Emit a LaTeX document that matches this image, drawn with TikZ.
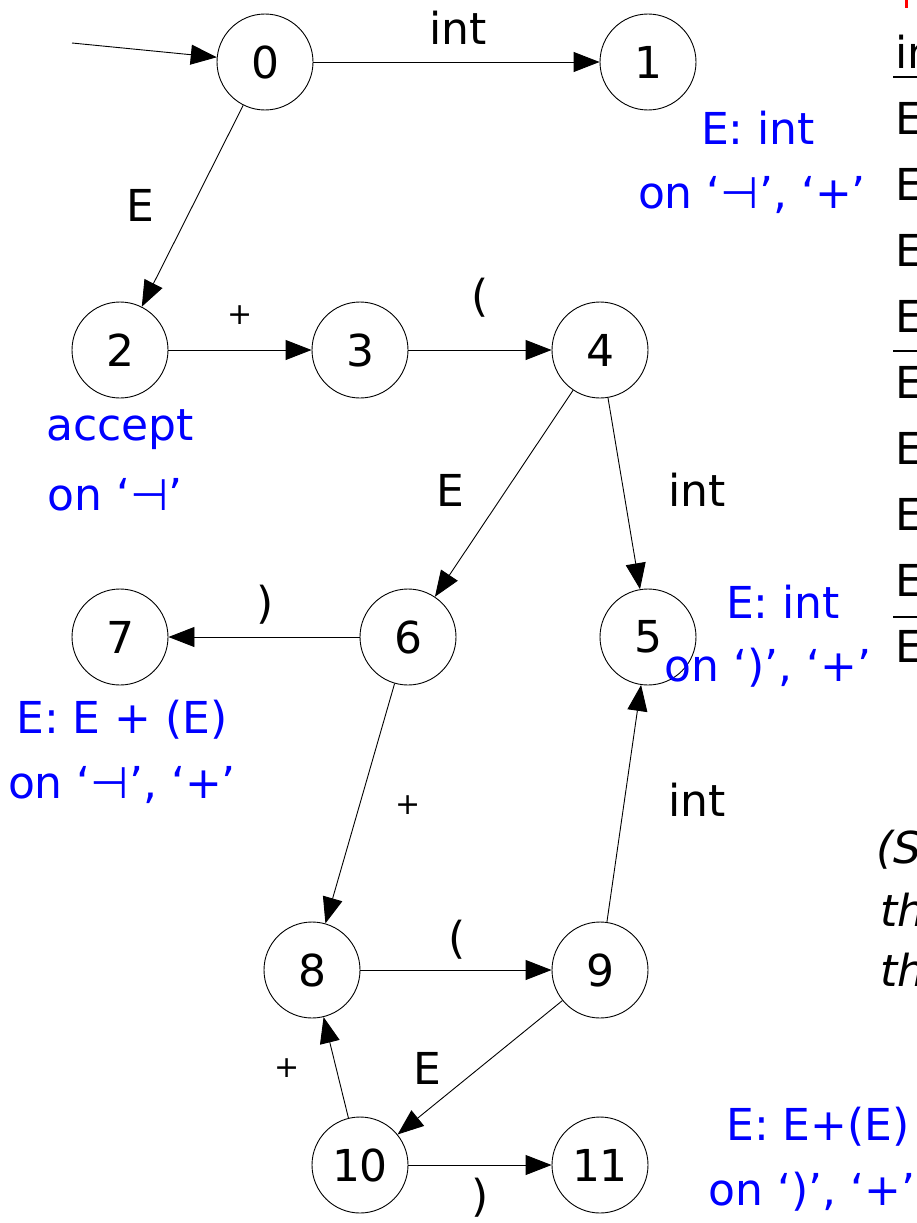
\documentclass[tikz,border=0pt]{standalone}
\usepackage{fontspec}
\setmainfont{DejaVu Sans}
\usetikzlibrary{arrows.meta}
\begin{document}
\begin{tikzpicture}[x=1pt,y=-1pt,
  st/.style={circle,draw,line width=0.9pt,minimum size=96pt,inner sep=0pt,font=\fontsize{44}{50}\selectfont},
  edge/.style={line width=0.9pt,-{Triangle[length=26pt,width=20pt]}},
  lab/.style={inner sep=0pt,font=\fontsize{44}{50}\selectfont},
  plus/.style={inner sep=0pt,font=\fontsize{30}{34}\selectfont},
  bl/.style={inner sep=0pt,text=blue,font=\fontsize{44}{50}\selectfont},
  side/.style={inner sep=0pt,anchor=west,font=\fontsize{44}{50}\selectfont},
  rule/.style={line width=2pt}
]
\useasboundingbox (0,0) rectangle (917,1223);
\clip (0,0) rectangle (917,1223);

% states
\node[st] (n0) at (265,62) {0};
\node[st] (n1) at (648,62) {1};
\node[st] (n2) at (120,350) {2};
\node[st] (n3) at (360,350) {3};
\node[st] (n4) at (600,350) {4};
\node[st] (n5) at (648,637) {5};
\node[st] (n6) at (408,637) {6};
\node[st] (n7) at (120,637) {7};
\node[st] (n8) at (312,970) {8};
\node[st] (n9) at (600,970) {9};
\node[st] (n10) at (360,1165) {10};
\node[st] (n11) at (600,1165) {11};

% transitions
\coordinate (start) at (72,43);
\draw[edge] (start) -- (n0);
\draw[edge] (n0) -- (n1);
\draw[edge] (n0) -- (n2);
\draw[edge] (n2) -- (n3);
\draw[edge] (n3) -- (n4);
\draw[edge] (n4) -- (n5);
\draw[edge] (n4) -- (n6);
\draw[edge] (n6) -- (n7);
\draw[edge] (n6) -- (n8);
\draw[edge] (n8) -- (n9);
\draw[edge] (n9) -- (n5);
\draw[edge] (n9) -- (n10);
\draw[edge] (n10) -- (n8);
\draw[edge] (n10) -- (n11);

% edge labels
\node[lab] (l01) at (458,28) {int};
\node[lab] (l02) at (140,205) {E};
\node[plus] (l23) at (240,315) {+};
\node[lab] (l34) at (480,298) {(};
\node[lab] (l46) at (450,490) {E};
\node[lab] (l45) at (697,490) {int};
\node[lab] (l67) at (265,605) {)};
\node[plus] (l68) at (408,805) {+};
\node[lab] (l95) at (697,800) {int};
\node[lab] (l89) at (457,940) {(};
\node[lab] (l910) at (427,1068) {E};
\node[plus] (l108) at (287,1068) {+};
\node[lab] (l1011) at (480,1198) {)};

% reduce / accept annotations
\node[bl] (r1a) at (758,128) {E: int};
\node[bl] (r1b) at (752,195) {on `⊣', `+'};
\node[bl] (r2a) at (120,430) {accept};
\node[bl] (r2b) at (115,495) {on `⊣'};
\node[bl] (r5a) at (783,602) {E: int};
\node[bl] (r5b) at (768,668) {on `)', `+'};
\node[bl] (r7a) at (122,720) {E: E + (E)};
\node[bl] (r7b) at (122,785) {on `⊣', `+'};
\node[bl] (r11a) at (818,1127) {E: E+(E)};
\node[bl] (r11b) at (812,1192) {on `)', `+'};

% cut-off text at the right edge
\draw[red,line width=3pt] (906,0) -- (906,8);
\node[side] (tin) at (895,52) {in};
\draw[rule] (893,77) -- (917,77);
\foreach \k in {0,...,8} {
  \node[side] (te\k) at (895,{118+66*\k}) {E};
}
\draw[rule] (893,351) -- (917,351);
\draw[rule] (893,617) -- (917,617);
\node[side,font=\fontsize{44}{50}\selectfont\itshape] (ts) at (876,850) {(S};
\node[side,font=\fontsize{44}{50}\selectfont\itshape] (tt1) at (880,910) {th};
\node[side,font=\fontsize{44}{50}\selectfont\itshape] (tt2) at (880,970) {th};
\end{tikzpicture}
\end{document}
